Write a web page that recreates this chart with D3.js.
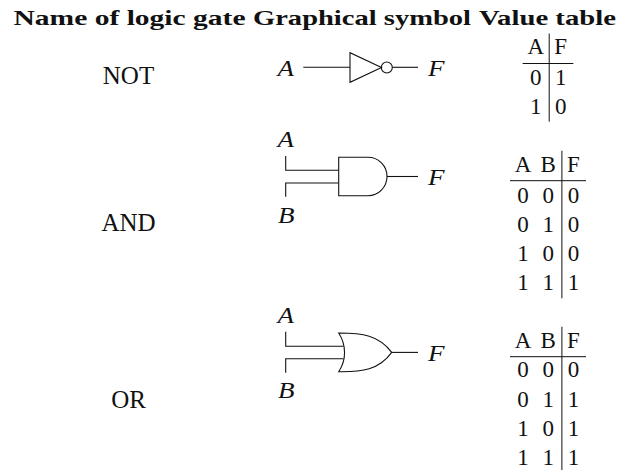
<!DOCTYPE html>
<html>
<head>
<meta charset="utf-8">
<script src="https://cdn.jsdelivr.net/npm/d3@7"></script>
<style>
body { margin: 0; background: #fff; }
svg { display: block; }
text { font-family: "Liberation Serif", serif; fill: #111; }
</style>
</head>
<body>
<svg id="chart" width="618" height="472"></svg>
<script>
const headers = ["Name of logic gate", "Graphical symbol", "Value table"];
const gateNames = ["NOT", "AND", "OR"];
const notColumns = ["A", "F"];
const notRows = [[0, 1], [1, 0]];
const andColumns = ["A", "B", "F"];
const andRows = [[0, 0, 0], [0, 1, 0], [1, 0, 0], [1, 1, 1]];
const orColumns = ["A", "B", "F"];
const orRows = [[0, 0, 0], [0, 1, 1], [1, 0, 1], [1, 1, 1]];

const svg = d3.select("#chart");

// header, squeezed to the width each phrase has in the picture
const headerBox = [[13.5, 232], [253, 218], [479, 137]];
svg.selectAll(".header")
    .data(headers)
    .join("text")
    .attr("class", "header")
    .attr("x", (d, i) => headerBox[i][0])
    .attr("y", 24.5)
    .attr("textLength", (d, i) => headerBox[i][1])
    .attr("lengthAdjust", "spacingAndGlyphs")
    .style("font-size", "22px")
    .style("font-weight", "bold")
    .text(d => d);

const nameY = [83.5, 231, 407.5];
svg.selectAll(".gate-name")
    .data(gateNames)
    .join("text")
    .attr("class", "gate-name")
    .attr("x", 128.5)
    .attr("y", (d, i) => nameY[i])
    .attr("text-anchor", "middle")
    .style("font-size", "25px")
    .text(d => d);

const drawTable = (columns, rows, x0, x1, top, ruleY, headY, firstRowY, lastRowY, bottom) => {
    const g = svg.append("g");
    const xScale = d3.scalePoint()
        .domain(d3.range(columns.length))
        .range([x0 + 13, x1 - 12.6]);
    const yScale = d3.scalePoint()
        .domain(d3.range(rows.length))
        .range([firstRowY, lastRowY]);
    const splitX = xScale(columns.length - 1) - 11.5;

    g.selectAll(".head")
        .data(columns)
        .join("text")
        .attr("x", (d, i) => xScale(i))
        .attr("y", headY)
        .attr("text-anchor", "middle")
        .style("font-size", "23px")
        .text(d => d);
    rows.forEach((row, r) => {
        g.selectAll(`.row${r}`)
            .data(row)
            .join("text")
            .attr("class", `row${r}`)
            .attr("x", (d, i) => xScale(i))
            .attr("y", yScale(r))
            .attr("text-anchor", "middle")
            .style("font-size", "23px")
            .text(d => d);
    });
    g.append("line")
        .attr("x1", x0).attr("x2", x1)
        .attr("y1", ruleY).attr("y2", ruleY)
        .attr("stroke", "#111").attr("stroke-width", 1);
    g.append("line")
        .attr("x1", splitX).attr("x2", splitX)
        .attr("y1", top).attr("y2", bottom)
        .attr("stroke", "#111").attr("stroke-width", 1);
};

drawTable(notColumns, notRows, 522.7, 573.3, 33.5, 63.5, 54, 84.5, 113.5, 121.7);
drawTable(andColumns, andRows, 510, 586, 150.7, 180.7, 171.7, 202.7, 290, 298.3);
drawTable(orColumns, orRows, 510, 586, 326.7, 356.7, 348.3, 377.3, 465, 470);

const wire = (d) => svg.append("path")
    .attr("d", d)
    .attr("fill", "none")
    .attr("stroke", "#111")
    .attr("stroke-width", 1.1);

const mathLabel = (label, x, y) => svg.append("text")
    .attr("x", x)
    .attr("y", y)
    .attr("textLength", 16.5)
    .attr("lengthAdjust", "spacingAndGlyphs")
    .style("font-size", "24px")
    .style("font-style", "italic")
    .text(label);

// NOT
mathLabel("A", 277.5, 76);
mathLabel("F", 428, 76);
wire("M303.3,67.3H350");
wire("M350,52.7V82.3L381.5,67.5Z");
svg.append("circle")
    .attr("cx", 386.8).attr("cy", 67.5).attr("r", 5.5)
    .attr("fill", "none").attr("stroke", "#111").attr("stroke-width", 1.1);
wire("M392.3,67.3H418");

// AND
mathLabel("A", 277.5, 147);
mathLabel("B", 278, 222.7);
mathLabel("F", 428, 185);
wire("M285.7,156V170.3H338.7");
wire("M285.7,196.7V183H338.7");
wire("M338.7,157.3H368A19,19.2 0 0 1 368,195.7H338.7Z");
wire("M387,176.5H418");

// OR
mathLabel("A", 277.5, 322.7);
mathLabel("B", 278, 397.7);
mathLabel("F", 428, 361);
wire("M285.7,331.7V346.3H343.5");
wire("M285.7,372.7V358.7H343.5");
wire("M338.7,333C346.5,345 346.5,360 338.7,371.7C362,372 379,370 391.7,352.4C379,335 362,333 338.7,333Z");
wire("M391.7,352.4H418");
</script>
</body>
</html>
